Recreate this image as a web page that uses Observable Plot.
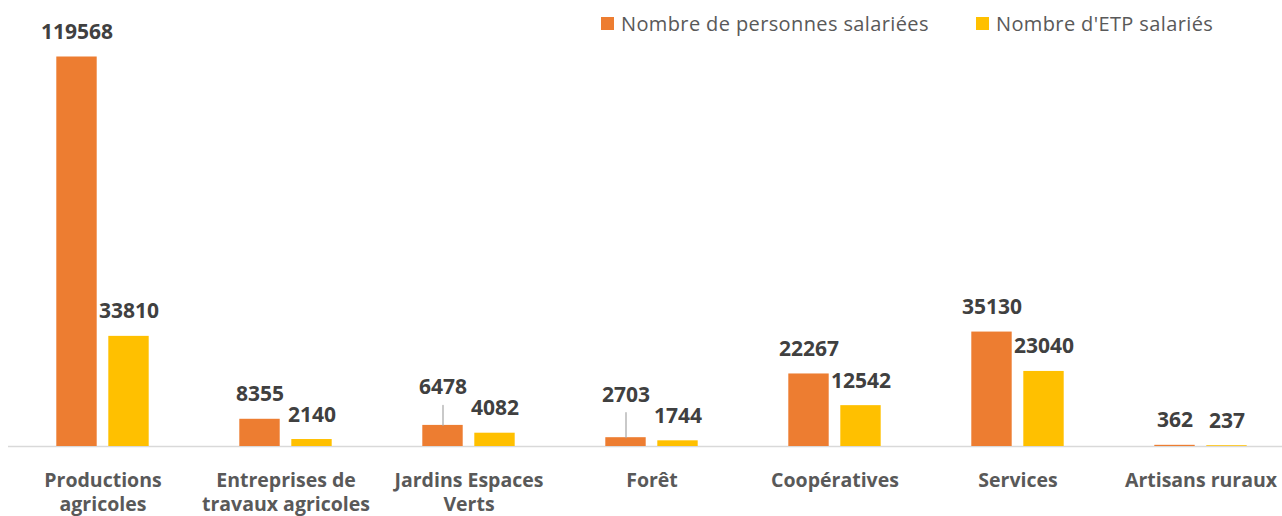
<!DOCTYPE html>
<html>
<head>
<meta charset="utf-8">
<script src="https://cdn.jsdelivr.net/npm/d3@7"></script>
<script src="https://cdn.jsdelivr.net/npm/@observablehq/plot@0.6"></script>
<style>
  html, body { margin: 0; padding: 0; background: #fff; }
  #wrap { position: relative; width: 1282px; height: 516px; overflow: hidden; }
  #legend { position: absolute; top: 0; left: 0; font-family: "Open Sans", sans-serif; font-size: 20px; letter-spacing: 0.38px; color: #595959; }
  .item { position: absolute; top: 13.9px; display: flex; align-items: center; white-space: nowrap; line-height: 20px; }
  .sw { width: 13px; height: 13px; margin-right: 7px; }
  g[aria-label="x-axis tick label"] text { font-weight: bold; }
</style>
</head>
<body>
<div id="wrap"></div>
<script>
const categories = ["Productions agricoles", "Entreprises de travaux agricoles", "Jardins Espaces Verts", "Forêt", "Coopératives", "Services", "Artisans ruraux"];
const tickLabels = ["Productions\nagricoles", "Entreprises de\ntravaux agricoles", "Jardins Espaces\nVerts", "Forêt", "Coopératives", "Services", "Artisans ruraux"];
const series = ["Nombre de personnes salariées", "Nombre d'ETP salariés"];
const personnes = [119568, 8355, 6478, 2703, 22267, 35130, 362];
const etp = [33810, 2140, 4082, 1744, 12542, 23040, 237];
const colors = ["#ED7D31", "#FFC000"];

const data = categories.flatMap((c, i) => [
  {cat: c, series: series[0], value: personnes[i]},
  {cat: c, series: series[1], value: etp[i]}
]);
const pers = data.filter(d => d.series === series[0]);
const etps = data.filter(d => d.series === series[1]);

// labels moved up with a leader line (label layout)
const raised = [
  {cat: "Jardins Espaces Verts", lift: 31, leader: 20},
  {cat: "Forêt", lift: 36, leader: 25}
];
const raisedSet = new Set(raised.map(r => r.cat));

const labelStyle = {fontSize: 21, fontWeight: "bold", fill: "#404040", lineAnchor: "bottom", textAnchor: "middle"};

const marks = [
  Plot.ruleY([0], {stroke: "#d9d9d9", strokeWidth: 1.5}),
  Plot.barY(pers, {x: "cat", y: "value", fill: "series", insetLeft: 45.3, insetRight: 97.3}),
  Plot.barY(etps, {x: "cat", y: "value", fill: "series", insetLeft: 97.3, insetRight: 45.3}),
  Plot.text(pers.filter(d => !raisedSet.has(d.cat)), {x: "cat", y: "value", text: d => String(d.value), dx: -26, dy: -18, ...labelStyle}),
  Plot.text(etps, {x: "cat", y: "value", text: d => String(d.value), dx: 26, dy: -18, ...labelStyle}),
  Plot.axisX({tickSize: 0, tickPadding: 24, tickFormat: d => tickLabels[categories.indexOf(d)], fontSize: 19.5, fontWeight: "bold", fill: "#595959", lineHeight: 1.2})
];
for (const r of raised) {
  const sub = pers.filter(d => d.cat === r.cat);
  marks.push(Plot.vector(sub, {x: "cat", y: "value", dx: -26, length: r.leader, rotate: 0, anchor: "start", r: 0, stroke: "#a6a6a6", strokeWidth: 1.2}));
  marks.push(Plot.text(sub, {x: "cat", y: "value", text: d => String(d.value), dx: -26, dy: -r.lift, ...labelStyle}));
}

const chart = Plot.plot({
  width: 1282,
  height: 516,
  marginTop: 56.5,
  marginBottom: 70,
  marginLeft: 8,
  marginRight: 0,
  style: {fontFamily: "'Open Sans', sans-serif", color: "#595959", background: "#fff", overflow: "visible"},
  x: {domain: categories, range: [8.17, 1293.9], padding: 0, label: null},
  y: {domain: [0, d3.max(personnes)], axis: null},
  color: {domain: series, range: colors},
  marks
});

const wrap = document.getElementById("wrap");
wrap.appendChild(chart);

const legend = document.createElement("div");
legend.id = "legend";
const lefts = [601, 976];
series.forEach((s, i) => {
  const item = document.createElement("div");
  item.className = "item";
  item.style.left = lefts[i] + "px";
  const sw = document.createElement("span");
  sw.className = "sw";
  sw.style.background = colors[i];
  const t = document.createElement("span");
  t.textContent = s;
  item.appendChild(sw);
  item.appendChild(t);
  legend.appendChild(item);
});
wrap.appendChild(legend);
</script>
</body>
</html>
